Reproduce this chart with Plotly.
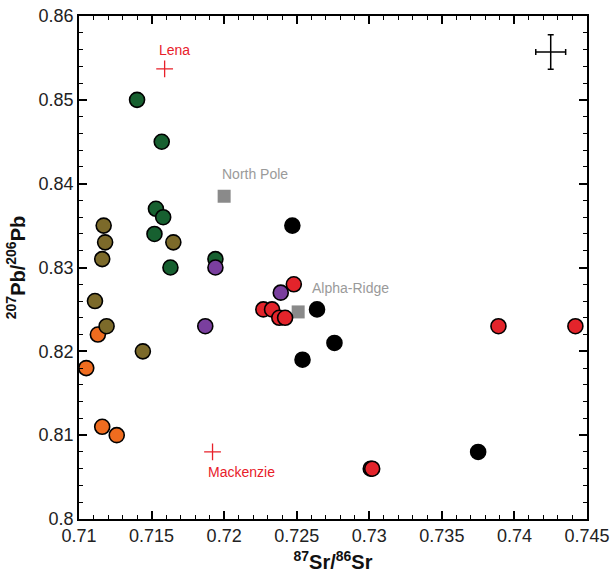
import plotly.graph_objects as go

# ---- data ----
orange_x = [0.7105, 0.7113, 0.7116, 0.7126]
orange_y = [0.818, 0.822, 0.811, 0.810]

olive_x = [0.7117, 0.7118, 0.7116, 0.7111, 0.7119, 0.7144, 0.7165]
olive_y = [0.835, 0.833, 0.831, 0.826, 0.823, 0.820, 0.833]

green_x = [0.7140, 0.7157, 0.7153, 0.7158, 0.7152, 0.7163, 0.7194]
green_y = [0.850, 0.845, 0.837, 0.836, 0.834, 0.830, 0.831]

purple_x = [0.7194, 0.7239, 0.7187]
purple_y = [0.830, 0.827, 0.823]

red_x = [0.7248, 0.7227, 0.7233, 0.7238, 0.7242, 0.7301, 0.7302, 0.7389, 0.7442]
red_y = [0.828, 0.825, 0.825, 0.824, 0.824, 0.806, 0.806, 0.823, 0.823]

black_x = [0.7247, 0.7264, 0.7254, 0.7276, 0.7375]
black_y = [0.835, 0.825, 0.819, 0.821, 0.808]

ref_names = ["North Pole", "Alpha-Ridge"]
ref_x = [0.7200, 0.7251]
ref_y = [0.8385, 0.8247]

river_names = ["Lena", "Mackenzie"]
river_x = [0.7159, 0.7192]
river_y = [0.8537, 0.8080]

err_x, err_y = [0.7425], [0.8557]
err_dx, err_dy = 0.00103, 0.00205

label_pos = {
    "Lena": (0.7166, 0.8559, "#e8202a"),
    "North Pole": (0.7221, 0.8411, "#9a9a9a"),
    "Alpha-Ridge": (0.7287, 0.8276, "#9a9a9a"),
    "Mackenzie": (0.7212, 0.8056, "#e8202a"),
}

FONT = "Liberation Sans, Arial, sans-serif"

fig = go.Figure()

fig.add_trace(go.Scatter(x=ref_x, y=ref_y, mode="markers",
                         marker=dict(symbol="square", size=13, color="#8a8a8a",
                                     line=dict(width=0)), showlegend=False))

groups = [
    (orange_x, orange_y, "#ef6c1f"),
    (olive_x, olive_y, "#7c6a2a"),
    (green_x, green_y, "#176030"),
    (purple_x, purple_y, "#7a3f9e"),
    (red_x, red_y, "#e3242b"),
    (black_x, black_y, "#000000"),
]
for gx, gy, c in groups:
    fig.add_trace(go.Scatter(x=gx, y=gy, mode="markers",
                             marker=dict(symbol="circle", size=15, color=c,
                                         line=dict(width=1.6, color="#000000")),
                             showlegend=False))

fig.add_trace(go.Scatter(x=river_x, y=river_y, mode="markers",
                         marker=dict(symbol="cross-thin", size=12,
                                     line=dict(width=1.3, color="#e8202a")),
                         showlegend=False))

fig.add_trace(go.Scatter(x=err_x, y=err_y, mode="markers",
                         marker=dict(size=1, color="rgba(0,0,0,0)"),
                         error_x=dict(type="constant", value=err_dx, color="#000",
                                      thickness=1.5, width=3),
                         error_y=dict(type="constant", value=err_dy, color="#000",
                                      thickness=1.5, width=3),
                         showlegend=False))

for name, (lx, ly, col) in label_pos.items():
    fig.add_annotation(x=lx, y=ly, text=name, showarrow=False,
                       font=dict(family=FONT, size=14, color=col))

axis_common = dict(showgrid=False, zeroline=False, showline=True, linecolor="#000",
                   linewidth=1.5, mirror="ticks", ticks="inside", ticklen=8,
                   tickwidth=1.5, tickcolor="#000", automargin=False,
                   tickfont=dict(family=FONT, size=18, color="#222"))

fig.update_xaxes(range=[0.71, 0.745], dtick=0.005, tick0=0.71,
                 minor=dict(dtick=0.001, ticks="inside", ticklen=4, tickwidth=1.2,
                            tickcolor="#000"),
                 title=dict(text="<b><sup>87</sup>Sr/<sup>86</sup>Sr</b>",
                            font=dict(family=FONT, size=20, color="#111"), standoff=10),
                 **axis_common)
fig.update_yaxes(range=[0.80, 0.86], dtick=0.01, tick0=0.80,
                 minor=dict(dtick=0.002, ticks="inside", ticklen=4, tickwidth=1.2,
                            tickcolor="#000"),
                 title=dict(text="<b><sup>207</sup>Pb/<sup>206</sup>Pb</b>",
                            font=dict(family=FONT, size=20, color="#111"), standoff=8),
                 **axis_common)

fig.update_layout(width=610, height=575, plot_bgcolor="white", paper_bgcolor="white",
                  margin=dict(l=79, r=23, t=16, b=56), showlegend=False)

fig.write_html("out.html", config={"displayModeBar": False},
               post_script="document.body.style.margin='0';document.body.style.padding='0';")
